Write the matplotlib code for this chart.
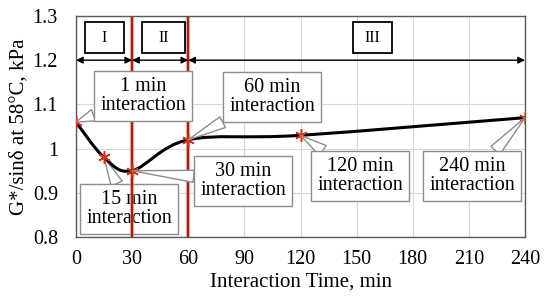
import matplotlib
matplotlib.use("Agg")
import matplotlib.pyplot as plt
from matplotlib.path import Path
from matplotlib.patches import PathPatch, Rectangle
import numpy as np

plt.rcParams['font.family'] = ['Liberation Serif', 'DejaVu Serif']

# ---- data ----
times = [0, 15, 30, 60, 120, 240]
gstar = [1.06, 0.98, 0.95, 1.02, 1.03, 1.07]
x_ticks = [0, 30, 60, 90, 120, 150, 180, 210, 240]
y_ticks = [0.8, 0.9, 1.0, 1.1, 1.2, 1.3]
y_tick_labels = ['0.8', '0.9', '1', '1.1', '1.2', '1.3']
stage_bounds = [0, 30, 60, 240]
stage_labels = ['I', 'II', 'III']
callout_idx = [0, 1, 2, 3, 4, 5]
callout_text = ['1 min\ninteraction', '15 min\ninteraction', '30 min\ninteraction',
                '60 min\ninteraction', '120 min\ninteraction', '240 min\ninteraction']

fig = plt.figure(figsize=(5.5, 2.98), dpi=100)
ax = fig.add_axes([76/550, 61/298, 449/550, 221/298])
ax.set_xlim(0, 240)
ax.set_ylim(0.8, 1.3)
ax.set_xticks(x_ticks)
ax.set_yticks(y_ticks)
ax.set_yticklabels(y_tick_labels)
ax.tick_params(length=0, labelsize=14.5)
ax.tick_params(axis='x', pad=9)
ax.tick_params(axis='y', pad=13)
ax.grid(True, color='#d9d9d9', lw=0.8)
ax.set_axisbelow(True)
for s in ax.spines.values():
    s.set_color('#595959')
    s.set_linewidth(1.0)
ax.set_xlabel('Interaction Time, min', fontsize=15, va='center')
ax.xaxis.set_label_coords(0.5, -0.205)
ax.set_ylabel('G*/sinδ at 58°C, kPa', fontsize=15, labelpad=3)

# smoothed line (Excel-like cardinal spline via Bezier segments)
P = np.column_stack([times, gstar]).astype(float)
n = len(P)
verts = [tuple(P[0])]
codes = [Path.MOVETO]
for i in range(n - 1):
    p0 = P[i - 1] if i > 0 else P[i]
    p1 = P[i]
    p2 = P[i + 1]
    p3 = P[i + 2] if i + 2 < n else P[i + 1]
    c1 = p1 + (p2 - p0) / 6.0
    c2 = p2 - (p3 - p1) / 6.0
    verts += [tuple(c1), tuple(c2), tuple(p2)]
    codes += [Path.CURVE4] * 3
ax.add_patch(PathPatch(Path(verts, codes), fc='none', ec='black', lw=2.2, zorder=3))
ax.plot(times, gstar, ls='none', marker=(6, 2, 0), ms=9, mec='#d0301e', mew=1.1, zorder=4)

# stage boundaries
for xb in stage_bounds[1:3]:
    ax.axvline(xb, color='#ff8080', lw=3.2, alpha=0.6, zorder=2)
    ax.axvline(xb, color='#8b2e16', lw=1.6, zorder=2.1)

# stage arrows and boxes
stage_box_x = [(4.8, 25.7), (35.3, 58.3), (148.1, 169.0)]
for i, lab in enumerate(stage_labels):
    a, b = stage_bounds[i], stage_bounds[i + 1]
    ax.annotate('', xy=(b, 1.2), xytext=(a, 1.2),
                arrowprops=dict(arrowstyle='<|-|>', color='black', lw=1.0,
                                shrinkA=0, shrinkB=0, mutation_scale=10), zorder=5)
    x0, x1 = stage_box_x[i]
    ax.add_patch(Rectangle((x0, 1.216), x1 - x0, 0.07, fc='white', ec='black', lw=1.3, zorder=5))
    ax.text((x0 + x1) / 2, 1.251, lab, ha='center', va='center', fontsize=11.5, zorder=6)

# callouts
callout_pos = [(35.8, 1.119), (28.3, 0.863), (89.3, 0.927),
               (104.8, 1.117), (151.9, 0.938), (211.8, 0.938)]
callout_z = [7, 1.5, 7, 7, 7, 7]
for k, i in enumerate(callout_idx):
    ax.annotate(callout_text[k], xy=(times[i], gstar[i]), xytext=callout_pos[k],
                ha='center', va='center', fontsize=14.5, linespacing=1.0,
                bbox=dict(boxstyle='square,pad=0.3', fc='white', ec='#8c8c8c', lw=1.0),
                arrowprops=dict(arrowstyle='wedge,tail_width=0.6,shrink_factor=0.5',
                                fc='white', ec='#8c8c8c', lw=1.0, shrinkA=0, shrinkB=0),
                zorder=callout_z[k])

fig.savefig('out.png', dpi=100)
